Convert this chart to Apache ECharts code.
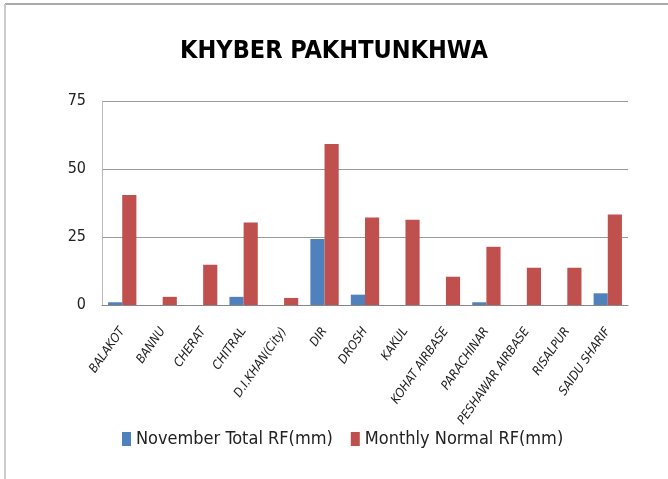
<!DOCTYPE html>
<html>
<head>
<meta charset="utf-8">
<script src="https://cdn.jsdelivr.net/npm/echarts@6/dist/echarts.min.js"></script>
<style>
  html, body { margin: 0; padding: 0; background: #fff; }
  #main { width: 668px; height: 479px; }
</style>
</head>
<body>
<div id="main"></div>
<script>
var stations = ['BALAKOT', 'BANNU', 'CHERAT', 'CHITRAL', 'D.I.KHAN(City)', 'DIR', 'DROSH',
  'KAKUL', 'KOHAT AIRBASE', 'PARACHINAR', 'PESHAWAR AIRBASE', 'RISALPUR', 'SAIDU SHARIF'];
var novemberRF = [1, 0, 0, 3, 0, 24.3, 3.8, 0, 0, 1, 0, 0, 4.3];
var normalRF = [40.4, 3, 14.8, 30.3, 2.6, 59.2, 32.2, 31.3, 10.4, 21.4, 13.7, 13.7, 33.3];
var yTicks = [0, 25, 50, 75];

var narrow = '"Liberation Sans Narrow", "DejaVu Sans Condensed", sans-serif';

var myChart = echarts.init(document.getElementById('main'));

myChart.setOption({
  animation: false,
  title: {
    text: 'KHYBER PAKHTUNKHWA',
    left: 'center',
    top: 34,
    textStyle: { fontFamily: narrow, fontSize: 25, fontWeight: 'bold', color: '#000' }
  },
  graphic: [
    { type: 'line', shape: { x1: 5, y1: 4, x2: 668, y2: 4 }, style: { stroke: '#aaa', lineWidth: 2 } },
    { type: 'line', shape: { x1: 5, y1: 4, x2: 5, y2: 479 }, style: { stroke: '#ccc', lineWidth: 2 } }
  ],
  legend: {
    bottom: 26,
    left: 117,
    icon: 'rect',
    itemWidth: 9,
    itemHeight: 14,
    itemGap: 18,
    textStyle: { fontFamily: narrow, fontSize: 18, color: '#222' },
    data: ['November Total RF(mm)', 'Monthly Normal RF(mm)']
  },
  grid: { left: 102, right: 40, top: 101, bottom: 174 },
  xAxis: {
    type: 'category',
    data: stations,
    axisLine: { lineStyle: { color: '#888' } },
    axisTick: { show: false },
    axisLabel: {
      interval: 0,
      rotate: 55,
      margin: 24,
      fontFamily: narrow,
      fontStyle: 'italic',
      fontSize: 12.5,
      color: '#222'
    }
  },
  yAxis: {
    type: 'value',
    min: yTicks[0],
    max: yTicks[yTicks.length - 1],
    interval: 25,
    axisLine: { show: true, lineStyle: { color: '#bbb' } },
    axisTick: { show: false },
    axisLabel: { fontFamily: narrow, fontSize: 16, color: '#222', margin: 16 },
    splitLine: { lineStyle: { color: '#999' } }
  },
  series: [
    {
      name: 'November Total RF(mm)',
      type: 'bar',
      data: novemberRF,
      barGap: '0%',
      barCategoryGap: '30%',
      itemStyle: { color: '#4F81BD' }
    },
    {
      name: 'Monthly Normal RF(mm)',
      type: 'bar',
      data: normalRF,
      barGap: '0%',
      barCategoryGap: '30%',
      itemStyle: { color: '#C0504D' }
    }
  ]
});
</script>
</body>
</html>
